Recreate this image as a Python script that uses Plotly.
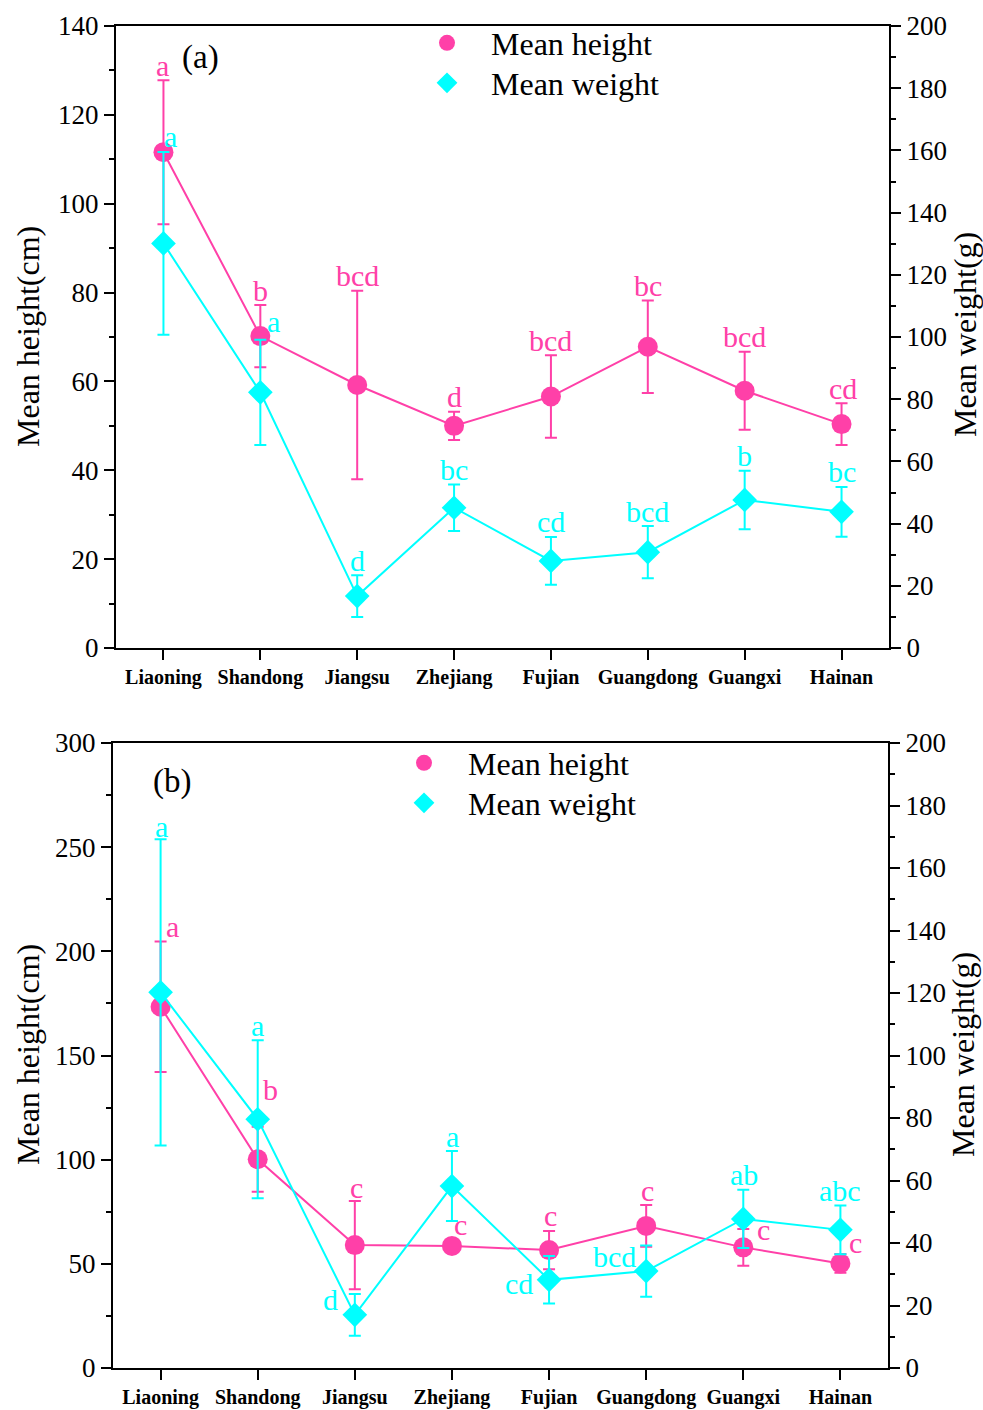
import plotly.graph_objects as go

# ---------------- data ----------------
categories = ["Liaoning", "Shandong", "Jiangsu", "Zhejiang", "Fujian", "Guangdong", "Guangxi", "Hainan"]

a_height = [111.6, 70.2, 59.2, 50.0, 56.6, 67.8, 57.9, 50.4]
a_height_err = [16.2, 7.0, 21.2, 3.2, 9.3, 10.4, 8.8, 4.7]
a_weight = [130.1, 82.2, 16.7, 45.1, 28.0, 30.8, 47.6, 43.8]
a_weight_err = [29.4, 16.9, 6.7, 7.5, 7.7, 8.4, 9.4, 8.0]
a_height_letters = ["a", "b", "bcd", "d", "bcd", "bc", "bcd", "cd"]
a_weight_letters = ["a", "a", "d", "bc", "cd", "bcd", "b", "bc"]

b_height = [173.4, 100.2, 59.0, 58.6, 56.6, 68.2, 57.9, 50.2]
b_height_err = [31.3, 15.6, 21.2, 3.0, 9.2, 10.0, 8.8, 4.5]
b_weight = [120.2, 79.6, 17.0, 58.2, 28.2, 31.0, 47.7, 44.2]
b_weight_err = [49.0, 25.3, 6.7, 11.2, 7.6, 8.2, 9.3, 7.8]
b_height_letters = ["a", "b", "c", "c", "c", "c", "c", "c"]
b_weight_letters = ["a", "a", "d", "a", "cd", "bcd", "ab", "abc"]

series_names = ["Mean height", "Mean weight"]
panel_tags = ["(a)", "(b)"]

# ---------------- styling ----------------
PINK = "#FF40A8"
CYAN = "#00FFFF"
SERIF = "Times New Roman, Liberation Serif, serif"
W, H = 983, 1410

# pixel offsets of the significance letters (dx, extra dy) relative to the default (above error bar)
a_h_dx = [-1, 0, 0, 0, 0, 0, 0, 1]
a_h_dy = [0, 0, 0, 0, 0, 0, 0, 0]
a_w_dx = [7, 13, 0, 0, 0, 0, 0, 0]
a_w_dy = [0, 3, 0, 0, 0, 0, 0, 0]
b_h_dx = [12, 13, 2, 9, 1, 1, 20, 15]
b_h_dy = [0, 22, -2, 0, 0, 0, -15, -3]
b_w_dx = [1, 0, -24, 1, -30, -32, 1, 0]
b_w_dy = [-2, 0, -21, 0, -42, -26, 0, 0]

def px_x(px):
    return px / W

def px_y(py):
    return 1 - py / H

xs = list(range(len(categories)))

fig = go.Figure()

def add_panel(xa, ya_l, ya_r, h, he, w, we):
    fig.add_trace(go.Scatter(
        x=xs, y=h, mode="lines+markers", name=series_names[0],
        xaxis=xa, yaxis=ya_l, showlegend=False,
        line=dict(color=PINK, width=2),
        marker=dict(symbol="circle", size=20, color=PINK),
        error_y=dict(type="data", array=he, color=PINK, thickness=2, width=6),
    ))
    fig.add_trace(go.Scatter(
        x=xs, y=w, mode="lines+markers", name=series_names[1],
        xaxis=xa, yaxis=ya_r, showlegend=False,
        line=dict(color=CYAN, width=2),
        marker=dict(symbol="diamond", size=19, color=CYAN),
        error_y=dict(type="data", array=we, color=CYAN, thickness=2, width=6),
    ))

add_panel("x", "y", "y2", a_height, a_height_err, a_weight, a_weight_err)
add_panel("x2", "y3", "y4", b_height, b_height_err, b_weight, b_weight_err)

# legend-only marker entries (one legend per row, so each row can be placed exactly)
legend_specs = [("legend", series_names[0], "circle", PINK, "x", "y"),
                ("legend2", series_names[1], "diamond", CYAN, "x", "y"),
                ("legend3", series_names[0], "circle", PINK, "x2", "y3"),
                ("legend4", series_names[1], "diamond", CYAN, "x2", "y3")]
for lg, nm, sym, col, xa, ya in legend_specs:
    fig.add_trace(go.Scatter(x=[None], y=[None], mode="markers", name=nm, legend=lg,
                             xaxis=xa, yaxis=ya, showlegend=True,
                             marker=dict(symbol=sym, size=20, color=col)))

annotations = []

def add_letters(xref, yref, vals, errs, letters, dxs, dys, color):
    for i, (v, e, t) in enumerate(zip(vals, errs, letters)):
        annotations.append(dict(
            x=xs[i], y=v + e, xref=xref, yref=yref, text=t, showarrow=False,
            font=dict(family=SERIF, size=30, color=color),
            xanchor="center", yanchor="middle",
            xshift=dxs[i], yshift=15 + dys[i],
        ))

add_letters("x", "y", a_height, a_height_err, a_height_letters, a_h_dx, a_h_dy, PINK)
add_letters("x", "y2", a_weight, a_weight_err, a_weight_letters, a_w_dx, a_w_dy, CYAN)
add_letters("x2", "y3", b_height, b_height_err, b_height_letters, b_h_dx, b_h_dy, PINK)
add_letters("x2", "y4", b_weight, b_weight_err, b_weight_letters, b_w_dx, b_w_dy, CYAN)

# panel tags
annotations.append(dict(x=px_x(200), y=px_y(57), xref="paper", yref="paper", text=panel_tags[0],
                        showarrow=False, font=dict(family=SERIF, size=33, color="black"),
                        xanchor="center", yanchor="middle"))
annotations.append(dict(x=px_x(172), y=px_y(781), xref="paper", yref="paper", text=panel_tags[1],
                        showarrow=False, font=dict(family=SERIF, size=33, color="black"),
                        xanchor="center", yanchor="middle"))

# axis titles
for (xp, yp, txt) in [(28, 337, "Mean height(cm)"), (965, 335, "Mean weight(g)"),
                      (28, 1055, "Mean height(cm)"), (963, 1055, "Mean weight(g)")]:
    annotations.append(dict(x=px_x(xp), y=px_y(yp), xref="paper", yref="paper", text=txt,
                            showarrow=False, textangle=-90,
                            font=dict(family=SERIF, size=32, color="black"),
                            xanchor="center", yanchor="middle"))

axis_common = dict(showline=True, linecolor="black", linewidth=2, ticks="outside",
                   ticklen=10, tickwidth=2, tickcolor="black", showgrid=False, zeroline=False,
                   automargin=False,
                   tickfont=dict(family=SERIF, size=27, color="black"))

xaxis_common = dict(axis_common, tickmode="array", tickvals=xs, ticktext=categories,
                    range=[-0.49, 7.49], mirror=True,
                    tickfont=dict(family=SERIF, size=20, color="black", weight="bold"))

minor = dict(ticks="outside", ticklen=5, tickwidth=2, tickcolor="black", dtick=10, showgrid=False)
minor_b = dict(ticks="outside", ticklen=5, tickwidth=2, tickcolor="black", dtick=25, showgrid=False)

def leg(xp, yp):
    return dict(x=px_x(xp), y=px_y(yp), xanchor="left", yanchor="middle",
                bgcolor="rgba(0,0,0,0)", font=dict(family=SERIF, size=32, color="black"),
                itemwidth=78, borderwidth=0)

fig.update_layout(
    width=W, height=H,
    margin=dict(l=0, r=0, t=0, b=0, autoexpand=False),
    paper_bgcolor="white", plot_bgcolor="white",
    font=dict(family=SERIF, color="black"),
    xaxis=dict(xaxis_common, domain=[px_x(116), px_x(889)], anchor="y"),
    yaxis=dict(axis_common, domain=[px_y(648), px_y(26)], anchor="x", range=[0, 140],
               dtick=20, minor=minor),
    yaxis2=dict(axis_common, overlaying="y", side="right", anchor="x", range=[0, 200],
                dtick=20, minor=minor),
    xaxis2=dict(xaxis_common, domain=[px_x(113), px_x(888)], anchor="y3"),
    yaxis3=dict(axis_common, domain=[px_y(1368), px_y(743)], anchor="x2", range=[0, 300],
                dtick=50, minor=minor_b),
    yaxis4=dict(axis_common, overlaying="y3", side="right", anchor="x2", range=[0, 200],
                dtick=20, minor=minor),
    legend=leg(403, 43),
    legend2=leg(403, 83),
    legend3=leg(380, 763),
    legend4=leg(380, 803),
    annotations=annotations,
    showlegend=True,
)

fig.write_html("out.html")
